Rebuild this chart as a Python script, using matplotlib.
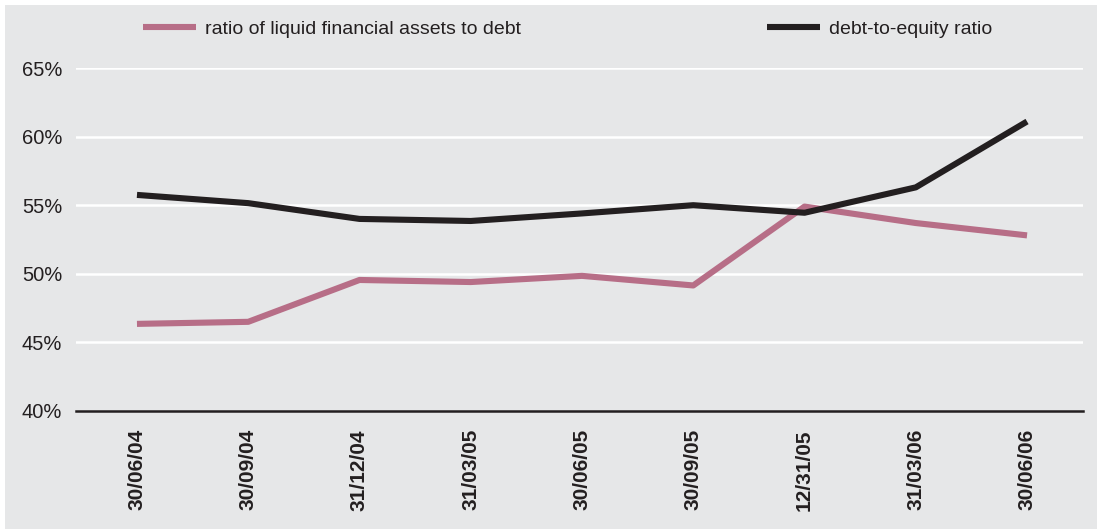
import matplotlib
matplotlib.use("Agg")
import matplotlib.pyplot as plt
from matplotlib.patches import Rectangle

plt.rcParams['font.family'] = ['Liberation Sans', 'DejaVu Sans']

dates = ['30/06/04', '30/09/04', '31/12/04', '31/03/05', '30/06/05',
         '30/09/05', '12/31/05', '31/03/06', '30/06/06']
liquid_to_debt = [46.35, 46.5, 49.55, 49.4, 49.85, 49.15, 54.9, 53.7, 52.8]
debt_to_equity = [55.75, 55.15, 54.0, 53.85, 54.4, 55.0, 54.45, 56.3, 61.1]
yticks = [40, 45, 50, 55, 60, 65]

bg = '#e6e7e8'
ink = '#231f20'
pink = '#b76e87'

W, H = 1098, 531
fig = plt.figure(figsize=(W / 100, H / 100), dpi=100, facecolor='white')
# grey panel with a thin white margin on the top and left
fig.patches.append(Rectangle((5 / W, 2 / H), (1097 - 5) / W, (529 - 5) / H,
                             transform=fig.transFigure, facecolor=bg,
                             edgecolor='none', zorder=-5))

ax = fig.add_axes([76 / W, (H - 411) / H, (1083 - 76) / W, (411 - 68) / H])
ax.set_zorder(1)
ax.patch.set_alpha(0)

x = list(range(len(dates)))
l1, = ax.plot(x, liquid_to_debt, color=pink, lw=4.4, solid_capstyle='butt',
              label='ratio of liquid financial assets to debt', zorder=3)
l2, = ax.plot(x, debt_to_equity, color=ink, lw=4.4, solid_capstyle='butt',
              label='debt-to-equity ratio', zorder=4)

ax.set_xlim(-0.548, 8.503)
ax.set_ylim(40, 65)
ax.set_yticks(yticks)
ax.set_yticklabels([f'{v}%' for v in yticks], fontsize=14.5, color=ink)
ax.set_xticks(x)
ax.set_xticklabels(dates, rotation=90, fontsize=15, fontweight='bold', color=ink)
ax.tick_params(axis='both', length=0)
ax.tick_params(axis='y', pad=10)
ax.tick_params(axis='x', pad=13)

for v in yticks[1:]:
    ax.axhline(v, color='white', lw=1.8, zorder=1)

for s in ['top', 'right', 'left']:
    ax.spines[s].set_visible(False)
ax.spines['bottom'].set_color(ink)
ax.spines['bottom'].set_linewidth(1.8)
ax.spines['bottom'].set_zorder(5)

# two separate legend entries along the top
for line, xpix in [(l1, 143), (l2, 767)]:
    leg = fig.legend([line], [line.get_label()], loc='center left',
                     bbox_to_anchor=(xpix / W, (H - 29) / H), frameon=False,
                     fontsize=14, handlelength=2.7, handletextpad=0.5,
                     borderpad=0, borderaxespad=0, labelcolor=ink)

fig.savefig('out.png', dpi=100, facecolor='white')
